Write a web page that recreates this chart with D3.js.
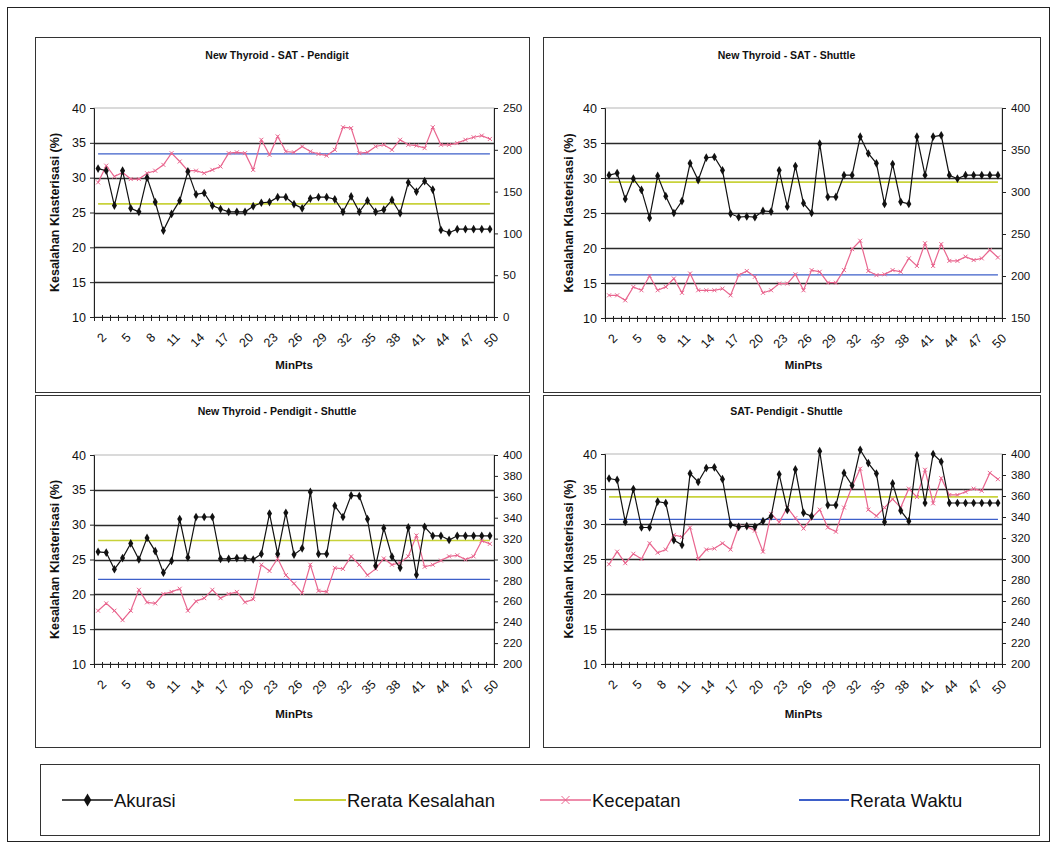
<!DOCTYPE html>
<html>
<head>
<meta charset="utf-8">
<script src="https://cdn.jsdelivr.net/npm/d3@7"></script>
<style>
  body { margin: 0; background: #fff; }
  svg { display: block; }
  text { font-family: "Liberation Sans", Arial, sans-serif; fill: #111; }
</style>
</head>
<body>
<svg id="fig" width="1057" height="848"></svg>
<script>
// ---- data ---------------------------------------------------------------
const minPts = [2,3,4,5,6,7,8,9,10,11,12,13,14,15,16,17,18,19,20,21,22,23,24,25,26,
                27,28,29,30,31,32,33,34,35,36,37,38,39,40,41,42,43,44,45,46,47,48,49,50];
const xTickLabels = [2,5,8,11,14,17,20,23,26,29,32,35,38,41,44,47,50];
const leftTicks = [10,15,20,25,30,35,40];

const titles = [
  "New Thyroid - SAT - Pendigit",
  "New Thyroid - SAT - Shuttle",
  "New Thyroid - Pendigit - Shuttle",
  "SAT- Pendigit - Shuttle"
];

// Akurasi (kesalahan klasterisasi, %) per MinPts
const akurasiP1 = [31.3,31.0,26.0,31.0,25.6,25.1,30.0,26.5,22.4,24.8,
                   26.7,30.9,27.6,27.8,26.0,25.5,25.1,25.1,25.1,25.9,
                   26.4,26.5,27.2,27.2,26.2,25.6,27.0,27.2,27.2,26.9,
                   25.1,27.3,25.1,26.7,25.1,25.4,26.8,24.9,29.3,28.0,
                   29.5,28.3,22.5,22.1,22.6,22.6,22.6,22.6,22.6];
const akurasiP2 = [30.4,30.7,27.0,29.9,28.3,24.3,30.3,27.4,25.0,26.7,
                   32.1,29.7,32.9,33.0,31.1,24.9,24.4,24.5,24.4,25.3,
                   25.2,31.1,25.9,31.7,26.4,25.0,34.9,27.3,27.3,30.4,
                   30.4,35.9,33.5,32.1,26.3,32.0,26.6,26.3,35.9,30.4,
                   35.9,36.1,30.4,29.9,30.4,30.4,30.4,30.4,30.4];
const akurasiP3 = [26.1,26.0,23.6,25.2,27.3,25.0,28.1,26.2,23.1,24.8,
                   30.8,25.3,31.1,31.1,31.1,25.1,25.1,25.2,25.2,25.0,
                   25.8,31.6,25.8,31.7,25.7,26.6,34.7,25.8,25.8,32.7,
                   31.1,34.2,34.1,30.8,24.1,29.5,25.4,23.8,29.6,22.8,
                   29.7,28.4,28.4,27.8,28.4,28.4,28.4,28.4,28.4];
const akurasiP4 = [36.5,36.3,30.3,35.0,29.5,29.5,33.2,33.0,27.7,27.0,
                   37.2,36.0,38.0,38.1,36.4,29.9,29.6,29.7,29.6,30.4,
                   31.1,37.1,32.0,37.8,31.6,31.1,40.4,32.7,32.7,37.3,
                   35.5,40.6,38.7,37.2,30.3,35.8,31.9,30.4,39.8,33.0,
                   40.0,38.9,33.0,33.0,33.0,33.0,33.0,33.0,33.0];

// Kecepatan (waktu) per MinPts, right-hand axis
const kecepatanP1 = [161,181,168,173,165,165,172,175,182,196,
                     186,175,175,172,176,180,196,197,196,176,
                     212,194,216,198,197,204,198,195,193,200,
                     227,226,196,197,204,206,200,212,206,205,
                     202,227,206,206,208,212,215,217,213];
const kecepatanP2 = [177,177,171,187,183,200,183,187,197,180,
                     203,183,183,183,185,177,201,206,199,180,
                     183,191,191,202,183,207,205,192,192,207,
                     232,242,206,201,202,207,205,221,212,239,
                     212,238,218,218,223,219,221,231,222];
const kecepatanP3 = [251,258,251,242,251,271,259,258,267,269,
                     272,251,260,263,271,263,267,269,259,262,
                     295,289,301,285,277,268,295,270,269,292,
                     291,303,295,285,291,301,295,297,303,323,
                     293,295,299,303,304,300,303,318,315];
const kecepatanP4 = [295,307,296,305,300,315,306,309,323,321,
                     330,300,309,310,315,309,331,331,327,307,
                     343,335,349,339,329,339,347,330,326,349,
                     369,386,347,341,349,357,349,367,359,385,
                     353,377,361,361,364,367,365,382,376];

const rightTicksP1 = [0,50,100,150,200,250];
const rightTicksP2 = [150,200,250,300,350,400];
const rightTicksP3 = [200,220,240,260,280,300,320,340,360,380,400];
const rightTicksP4 = [200,220,240,260,280,300,320,340,360,380,400];

const legendLabels = ["Akurasi", "Rerata Kesalahan", "Kecepatan", "Rerata Waktu"];

// ---- styling -----------------------------------------------------------
const C = {
  akurasi: "#111111",
  kesalahan: "#c8d23a",
  kecepatan: "#e9668f",
  waktu: "#3d5fc9",
  grid: "#2a2a2a",
  frame: "#333"
};

// panel frames and plot areas: [x, y, w, h] and [left, top, right, bottom]
const layout = [
  { frame: [35, 37, 494, 355],  plot: [94, 108, 494, 317],  titleY: 59,  yTitleX: 59,  xTitleY: 369 },
  { frame: [543, 37, 497, 355], plot: [605, 108, 1002, 318], titleY: 59, yTitleX: 573, xTitleY: 369 },
  { frame: [35, 395, 494, 352], plot: [94, 455, 494, 664],  titleY: 415, yTitleX: 59,  xTitleY: 718 },
  { frame: [543, 395, 497, 352], plot: [605, 454, 1002, 664], titleY: 415, yTitleX: 573, xTitleY: 718 }
];

const panels = [
  { title: titles[0], akurasi: akurasiP1, kecepatan: kecepatanP1, rTicks: rightTicksP1 },
  { title: titles[1], akurasi: akurasiP2, kecepatan: kecepatanP2, rTicks: rightTicksP2 },
  { title: titles[2], akurasi: akurasiP3, kecepatan: kecepatanP3, rTicks: rightTicksP3 },
  { title: titles[3], akurasi: akurasiP4, kecepatan: kecepatanP4, rTicks: rightTicksP4 }
];

const svg = d3.select("#fig");

// outer border around the whole figure
svg.append("rect")
  .attr("x", 7.5).attr("y", 7.5).attr("width", 1042).attr("height", 834)
  .attr("fill", "none").attr("stroke", "#222").attr("stroke-width", 1);

const diamond = d3.symbol().type(d3.symbolDiamond).size(22);

function drawCross(g, cx, cy, r, color) {
  g.append("path")
    .attr("d", `M${cx - r},${cy - r}L${cx + r},${cy + r}M${cx - r},${cy + r}L${cx + r},${cy - r}`)
    .attr("stroke", color).attr("stroke-width", 1).attr("fill", "none");
}

panels.forEach((p, i) => {
  const L = layout[i];
  const [fx, fy, fw, fh] = L.frame;
  const [left, top, right, bottom] = L.plot;
  const g = svg.append("g");

  g.append("rect")
    .attr("x", fx + 0.5).attr("y", fy + 0.5).attr("width", fw).attr("height", fh)
    .attr("fill", "#fff").attr("stroke", C.frame).attr("stroke-width", 1);

  const x = d3.scaleBand().domain(minPts).range([left, right]);
  const xc = d => x(d) + x.bandwidth() / 2;
  const yL = d3.scaleLinear().domain([10, 40]).range([bottom, top]);
  const rT = p.rTicks;
  const yR = d3.scaleLinear().domain([rT[0], rT[rT.length - 1]]).range([bottom, top]);

  // plot area outline
  g.append("rect")
    .attr("x", left).attr("y", top).attr("width", right - left).attr("height", bottom - top)
    .attr("fill", "none").attr("stroke", "#b5b5b5").attr("stroke-width", 1);

  // horizontal gridlines on the left scale
  g.selectAll("line.grid").data(leftTicks.filter(t => t > 10 && t < 40)).join("line")
    .attr("class", "grid")
    .attr("x1", left).attr("x2", right)
    .attr("y1", d => Math.round(yL(d)) + 0.5).attr("y2", d => Math.round(yL(d)) + 0.5)
    .attr("stroke", C.grid).attr("stroke-width", 1.3);

  // left axis
  const axL = g.append("g").attr("transform", `translate(${left},0)`)
    .call(d3.axisLeft(yL).tickValues(leftTicks).tickSize(4).tickPadding(4));
  axL.select(".domain").attr("stroke", "#222");
  axL.selectAll("line").attr("stroke", "#222");
  axL.selectAll("text").attr("font-size", 12.5).attr("fill", "#111")
    .attr("font-family", '"Liberation Sans", Arial, sans-serif');

  // right axis
  const axR = g.append("g").attr("transform", `translate(${right},0)`)
    .call(d3.axisRight(yR).tickValues(rT).tickSize(4).tickPadding(5));
  axR.select(".domain").attr("stroke", "#222");
  axR.selectAll("line").attr("stroke", "#222");
  axR.selectAll("text").attr("font-size", 11.5).attr("fill", "#111")
    .attr("font-family", '"Liberation Sans", Arial, sans-serif');

  // category axis with a tick at every category boundary
  g.append("line").attr("x1", left).attr("x2", right)
    .attr("y1", bottom + 0.5).attr("y2", bottom + 0.5).attr("stroke", "#222");
  g.selectAll("line.xt").data(minPts).join("line")
    .attr("class", "xt")
    .attr("x1", d => Math.round(x(d)) + 0.5).attr("x2", d => Math.round(x(d)) + 0.5)
    .attr("y1", bottom - 2).attr("y2", bottom + 4).attr("stroke", "#222");
  g.append("line")
    .attr("x1", right + 0.5).attr("x2", right + 0.5)
    .attr("y1", bottom - 2).attr("y2", bottom + 4).attr("stroke", "#222");

  // rotated category labels, reading up to the right
  const xl = g.selectAll("g.xl").data(xTickLabels).join("g")
    .attr("class", "xl")
    .attr("transform", d => `translate(${xc(d) + 3},${bottom + 15})`);
  xl.append("text")
    .attr("transform", "rotate(-45)")
    .attr("text-anchor", "end").attr("dy", "0.7em")
    .attr("font-size", 12.5).text(d => d);

  // average lines
  const meanErr = d3.mean(p.akurasi);
  const meanTime = d3.mean(p.kecepatan);
  g.append("line")
    .attr("x1", xc(minPts[0])).attr("x2", xc(minPts[minPts.length - 1]))
    .attr("y1", yL(meanErr)).attr("y2", yL(meanErr))
    .attr("stroke", C.kesalahan).attr("stroke-width", 1.6);
  g.append("line")
    .attr("x1", xc(minPts[0])).attr("x2", xc(minPts[minPts.length - 1]))
    .attr("y1", yR(meanTime)).attr("y2", yR(meanTime))
    .attr("stroke", C.waktu).attr("stroke-width", 1.4);

  // Kecepatan series (right axis)
  const speed = minPts.map((m, k) => ({ m, v: p.kecepatan[k] }));
  g.append("path").datum(speed)
    .attr("d", d3.line().x(d => xc(d.m)).y(d => yR(d.v)))
    .attr("fill", "none").attr("stroke", C.kecepatan).attr("stroke-width", 1.2);
  speed.forEach(d => drawCross(g, xc(d.m), yR(d.v), 2, C.kecepatan));

  // Akurasi series (left axis)
  const acc = minPts.map((m, k) => ({ m, v: p.akurasi[k] }));
  g.append("path").datum(acc)
    .attr("d", d3.line().x(d => xc(d.m)).y(d => yL(d.v)))
    .attr("fill", "none").attr("stroke", C.akurasi).attr("stroke-width", 1.2);
  g.selectAll("path.mk").data(acc).join("path")
    .attr("class", "mk")
    .attr("transform", d => `translate(${xc(d.m)},${yL(d.v)})`)
    .attr("d", diamond).attr("fill", C.akurasi);

  // titles
  g.append("text").attr("x", fx + fw / 2 - 5).attr("y", L.titleY)
    .attr("text-anchor", "middle").attr("font-size", 10.5).attr("font-weight", "bold")
    .text(p.title);
  g.append("text").attr("x", (left + right) / 2).attr("y", L.xTitleY)
    .attr("text-anchor", "middle").attr("font-size", 11.5).attr("font-weight", "bold")
    .text("MinPts");
  g.append("text")
    .attr("transform", `translate(${L.yTitleX},${(top + bottom) / 2}) rotate(-90)`)
    .attr("text-anchor", "middle").attr("font-size", 12.5).attr("font-weight", "bold")
    .text("Kesalahan Klasterisasi (%)");
});

// ---- legend -------------------------------------------------------------
const lg = svg.append("g");
lg.append("rect").attr("x", 40.5).attr("y", 764.5).attr("width", 999).attr("height", 71)
  .attr("fill", "#fff").attr("stroke", C.frame);

const legendItems = [
  { label: legendLabels[0], color: C.akurasi, x0: 62, x1: 113, mark: "diamond" },
  { label: legendLabels[1], color: C.kesalahan, x0: 294, x1: 346, mark: null },
  { label: legendLabels[2], color: C.kecepatan, x0: 540, x1: 591, mark: "cross" },
  { label: legendLabels[3], color: C.waktu, x0: 799, x1: 849, mark: null }
];
const ly = 800;
legendItems.forEach(it => {
  lg.append("line").attr("x1", it.x0).attr("x2", it.x1).attr("y1", ly).attr("y2", ly)
    .attr("stroke", it.color).attr("stroke-width", it.mark ? 1.6 : 1.8);
  const mx = (it.x0 + it.x1) / 2;
  if (it.mark === "diamond") {
    lg.append("path").attr("transform", `translate(${mx},${ly})`)
      .attr("d", d3.symbol().type(d3.symbolDiamond).size(50)).attr("fill", it.color);
  } else if (it.mark === "cross") {
    drawCross(lg, mx, ly, 4, it.color);
  }
  lg.append("text").attr("x", it.x1 + 1).attr("y", ly).attr("dy", "0.36em")
    .attr("font-size", 18.5).text(it.label);
});
</script>
</body>
</html>
